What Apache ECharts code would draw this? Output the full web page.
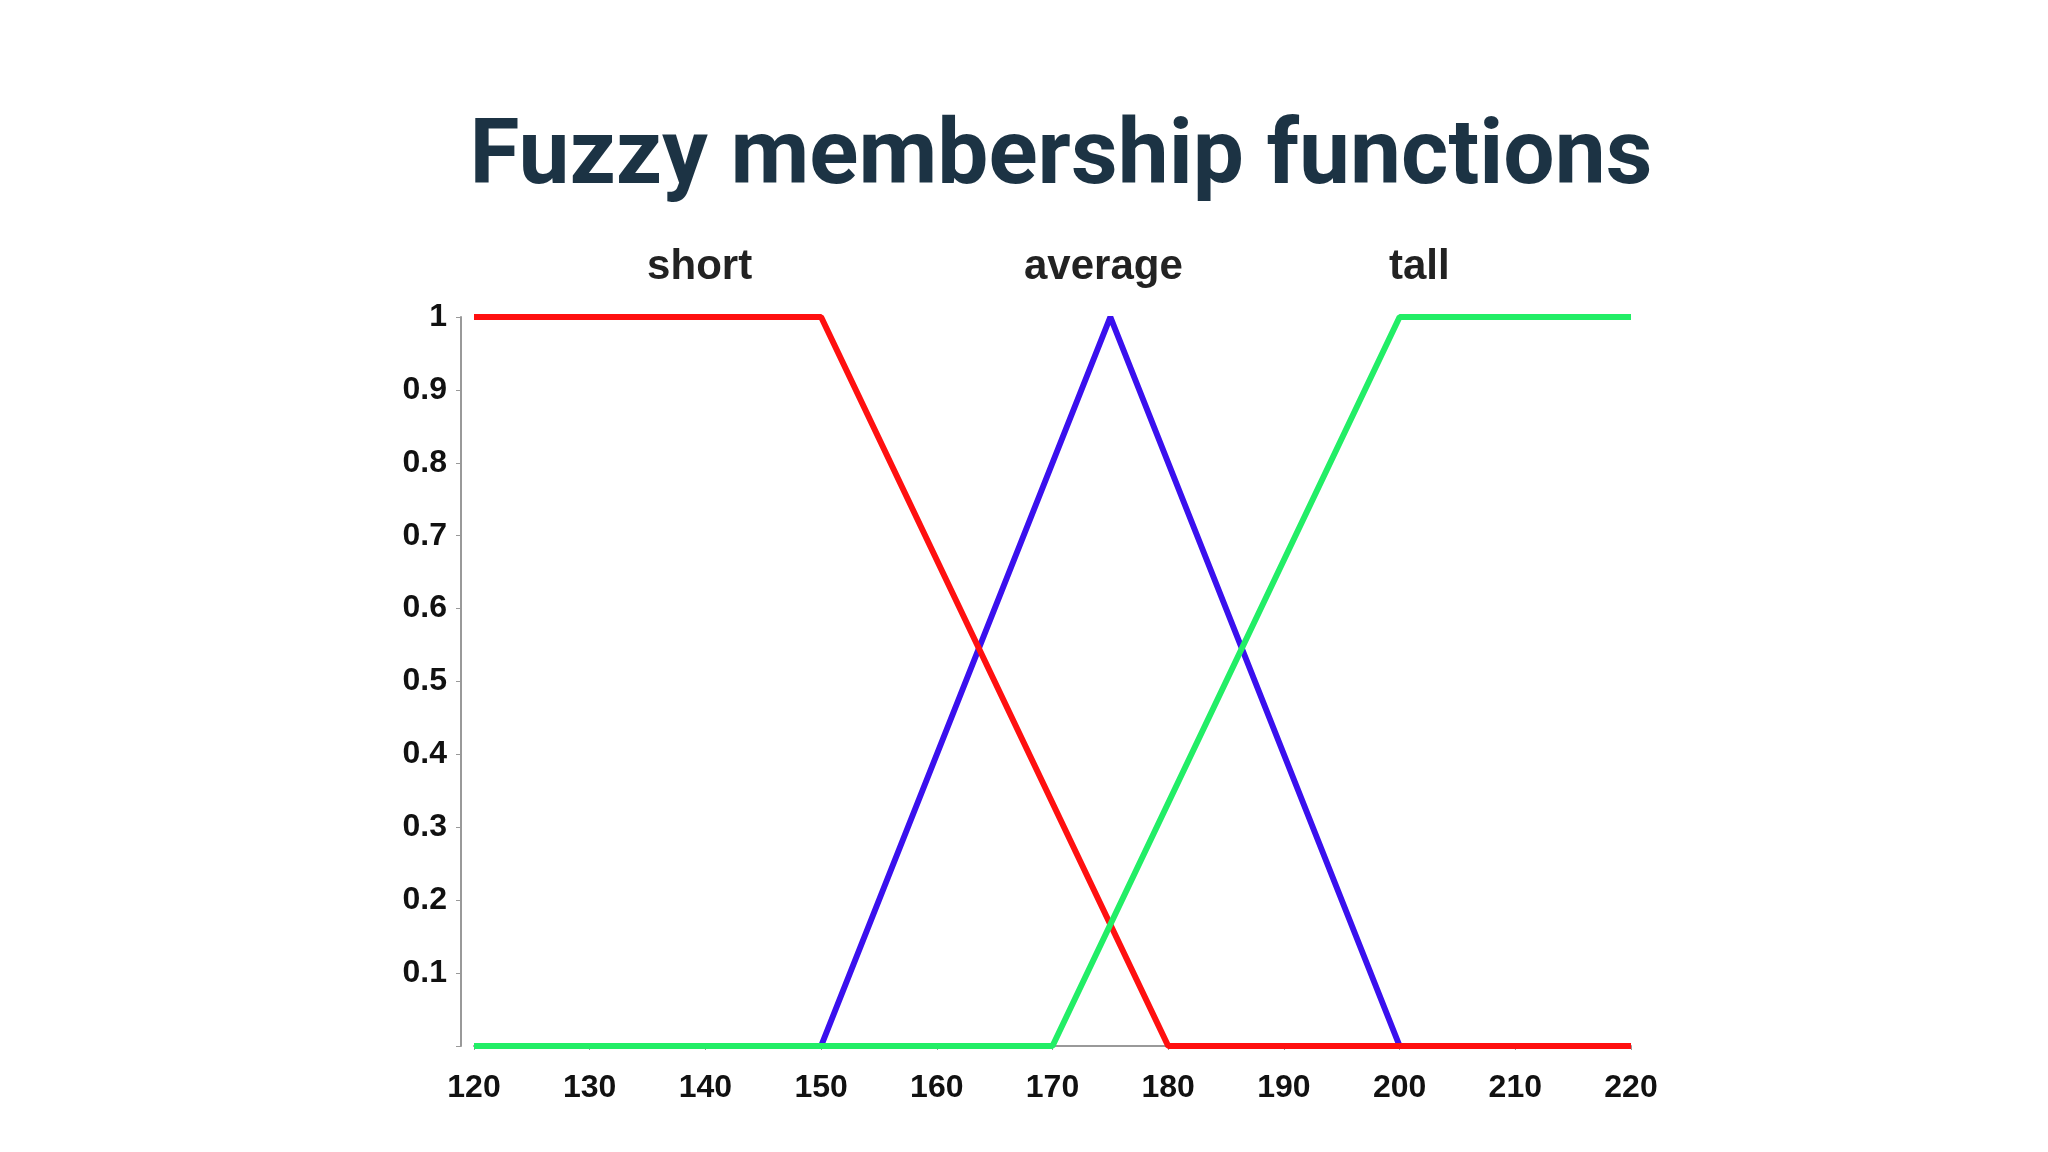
<!DOCTYPE html>
<html><head><meta charset="utf-8">
<script src="https://cdn.jsdelivr.net/npm/echarts@6/dist/echarts.min.js"></script>
<style>html,body{margin:0;background:#fff}#c{width:2048px;height:1152px}</style>
</head><body><div id="c"></div>
<script>
const titleText = 'Fuzzy membership functions';
const shortPts = [[120,1],[150,1],[180,0],[220,0]];
const averagePts = [[120,0],[150,0],[175,1],[200,0],[220,0]];
const tallPts = [[120,0],[170,0],[200,1],[220,1]];
const setNames = ['short','average','tall'];
const setLabelX = [139.5,174.4,201.7];
const chart = echarts.init(document.getElementById('c'));
const lab = {fontFamily:'Liberation Sans',fontWeight:'bold',fontSize:32,color:'#111'};
chart.setOption({
  animation:false,
  title:{text:titleText,left:1056,textAlign:'center',top:110,
    textStyle:{fontFamily:'Roboto',fontWeight:'bold',fontSize:91,color:'#1c3344'}},
  grid:{left:474,right:417,top:317,bottom:106},
  xAxis:{type:'value',min:120,max:220,interval:10,
    axisLine:{lineStyle:{color:'#999',width:2}},axisTick:{show:true,length:4,lineStyle:{color:'#999'}},
    splitLine:{show:false},axisLabel:Object.assign({margin:26},lab)},
  yAxis:{type:'value',min:0,max:1,interval:0.1,offset:13,
    axisLine:{show:true,lineStyle:{color:'#999',width:2}},axisTick:{show:true,length:5,lineStyle:{color:'#999'}},
    splitLine:{show:false},
    axisLabel:Object.assign({margin:14,formatter:v=>v===0?'':String(Math.round(v*10)/10)},lab)},
  series:[
    {name:setNames[0],type:'line',data:shortPts,symbol:'none',lineStyle:{color:'#ff1010',width:6},z:3},
    {name:setNames[1],type:'line',data:averagePts,symbol:'none',lineStyle:{color:'#3a10ee',width:6},z:2},
    {name:setNames[2],type:'line',data:tallPts,symbol:'none',lineStyle:{color:'#22ee66',width:6},z:4,
     markPoint:{symbol:'circle',symbolSize:1,itemStyle:{color:'rgba(0,0,0,0)'},data:setNames.map((n,i)=>({coord:[setLabelX[i],1],value:n})),
       label:{show:true,position:'inside',formatter:p=>p.value,offset:[0,-50],fontFamily:'Liberation Sans',fontWeight:'bold',fontSize:42,color:'#222'}}}
  ]
});
</script></body></html>
